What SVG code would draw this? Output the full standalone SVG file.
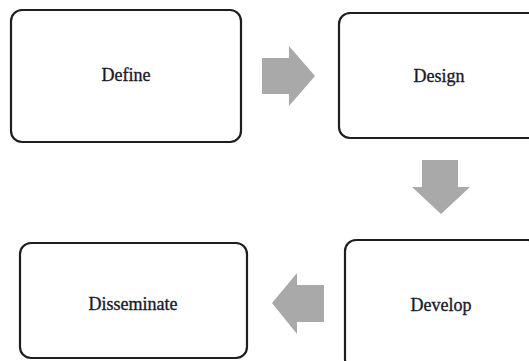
<svg xmlns="http://www.w3.org/2000/svg" width="529" height="361" viewBox="0 0 529 361">
<style>
.box{fill:#fff;stroke:#1e1e1e;stroke-width:2.2}
.lbl{font-family:"Liberation Serif","Times New Roman",serif;font-size:18px;fill:#1a1a2a;stroke:#1a1a2a;stroke-width:0.35;text-anchor:middle}
.arr{fill:#a9a9a9}
</style>
<rect width="529" height="361" fill="#fff"/>
<g id="define"><rect class="box" x="11" y="10" width="230" height="132" rx="11"/><text class="lbl" x="126" y="81">Define</text></g>
<g id="design"><rect class="box" x="339" y="13" width="201" height="125" rx="11"/><text class="lbl" x="439" y="82">Design</text></g>
<g id="develop"><rect class="box" x="345" y="240" width="194" height="130" rx="11"/><text class="lbl" x="441" y="311">Develop</text></g>
<g id="disseminate"><rect class="box" x="20" y="243" width="227" height="115" rx="11"/><text class="lbl" x="133" y="310">Disseminate</text></g>
<g id="connectors">
<polygon class="arr" points="262,58 289,58 289,46 315,76 289,106 289,94 262,94"/>
<polygon class="arr" points="422,160 458,160 458,187 470,187 441,214 412,187 422,187"/>
<polygon class="arr" points="324,285 297,285 297,273 272,303 297,334 297,322 324,322"/>
</g>
</svg>
